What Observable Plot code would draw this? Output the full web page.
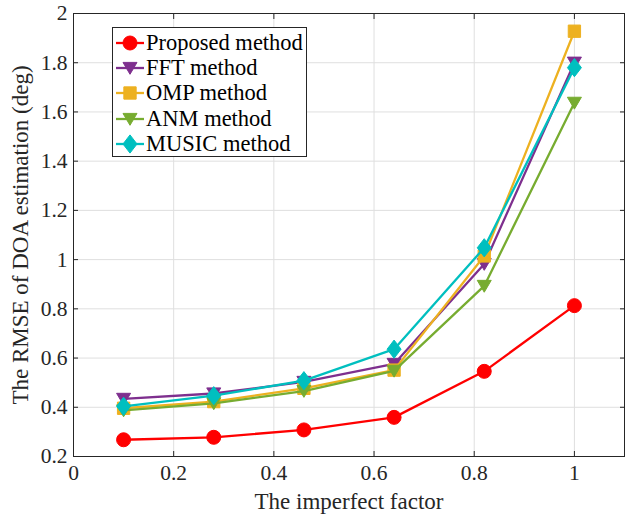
<!DOCTYPE html>
<html><head><meta charset="utf-8">
<script src="https://cdn.jsdelivr.net/npm/d3@7"></script>
<script src="https://cdn.jsdelivr.net/npm/@observablehq/plot@0.6"></script>
<style>
body{margin:0;background:#fff}
#wrap{position:relative;width:629px;height:515px;font-family:"Liberation Serif","Times New Roman",serif}
#legend{position:absolute;left:112px;top:27px;width:195px;height:130px;border:1px solid #262626;background:#fff;box-sizing:border-box;padding-top:2px}
.item{display:flex;align-items:center;height:25.4px;font-size:22.5px;color:#000;white-space:nowrap}
.item svg{margin-left:2px;margin-right:1px;flex:none}
</style>
</head><body><div id="wrap"></div><script>
const xs = [0.1, 0.28, 0.46, 0.64, 0.82, 1.0];
const proposed = [0.268, 0.278, 0.308, 0.359, 0.546, 0.813];
const fft = [0.434, 0.456, 0.503, 0.576, 0.982, 1.800];
const omp = [0.396, 0.423, 0.477, 0.551, 1.015, 1.928];
const anm = [0.387, 0.416, 0.466, 0.548, 0.893, 1.637];
const music = [0.404, 0.447, 0.508, 0.636, 1.048, 1.780];
const names = ["Proposed method", "FFT method", "OMP method", "ANM method", "MUSIC method"];
const colors = ["#ff0000", "#7e2f8e", "#edb120", "#77ac30", "#00bfbf"];
const xTicks = [0, 0.2, 0.4, 0.6, 0.8, 1];
const yTicks = [0.2, 0.4, 0.6, 0.8, 1, 1.2, 1.4, 1.6, 1.8, 2];

const circleSym = {draw(c, s){ const r = Math.sqrt(s/Math.PI); c.moveTo(r,0); c.arc(0,0,r,0,2*Math.PI); }};
const triDown = {draw(c, s){ const r = Math.sqrt(s/Math.PI); c.moveTo(-r,-0.8*r); c.lineTo(r,-0.8*r); c.lineTo(0,0.9*r); c.closePath(); }};
const squareSym = {draw(c, s){ const r = Math.sqrt(s/Math.PI)*0.88; c.rect(-r,-r,2*r,2*r); }};
const diamondSym = {draw(c, s){ const r = Math.sqrt(s/Math.PI); c.moveTo(0,-1.3*r); c.lineTo(r,0); c.lineTo(0,1.3*r); c.lineTo(-r,0); c.closePath(); }};
const symbols = [circleSym, triDown, squareSym, triDown, diamondSym];
const series = [proposed, fft, omp, anm, music];
const fmt = d3.format("~g");

const seriesMarks = series.flatMap((vals, k) => {
  const data = xs.map((x, i) => ({x, y: vals[i]}));
  return [
    Plot.line(data, {x: "x", y: "y", stroke: colors[k], strokeWidth: 2.3}),
    Plot.dot(data, {x: "x", y: "y", fill: colors[k], stroke: colors[k], strokeWidth: 1, symbol: () => symbols[k], r: 7})
  ];
});

const chart = Plot.plot({
  width: 629, height: 515,
  marginLeft: 73, marginRight: 5, marginTop: 13, marginBottom: 59,
  x: {domain: [0, 1.1]},
  y: {domain: [0.2, 2]},
  symbol: {type: "identity"},
  style: {fontFamily: "'Liberation Serif','Times New Roman',serif", fontSize: "21px", color: "#262626", background: "white"},
  marks: [
    Plot.gridX(xTicks, {stroke: "#dfdfdf", strokeOpacity: 1}),
    Plot.gridY(yTicks, {stroke: "#dfdfdf", strokeOpacity: 1}),
    ...seriesMarks,
    Plot.frame({stroke: "#262626"}),
    Plot.axisX(xTicks, {anchor: "bottom", tickSize: -5, tickFormat: () => "", label: null}),
    Plot.axisX(xTicks, {anchor: "top", tickSize: -5, tickFormat: () => "", label: null}),
    Plot.axisY(yTicks, {anchor: "left", tickSize: -5, tickFormat: () => "", label: null}),
    Plot.axisY(yTicks, {anchor: "right", tickSize: -5, tickFormat: () => "", label: null}),
    Plot.axisX(xTicks, {anchor: "bottom", tickSize: 0, tickPadding: 8, fontSize: 21.5, tickFormat: fmt, label: null}),
    Plot.axisY(yTicks, {anchor: "left", tickSize: 0, tickPadding: 6, fontSize: 21.5, tickFormat: fmt, label: null}),
    Plot.axisX(xTicks, {anchor: "bottom", tickSize: 0, tickFormat: () => "", fontSize: 23, label: "The imperfect factor", labelAnchor: "center", labelArrow: "none", labelOffset: 52}),
    Plot.axisY(yTicks, {anchor: "left", tickSize: 0, tickFormat: () => "", fontSize: 23, label: "The RMSE of DOA estimation (deg)", labelAnchor: "center", labelArrow: "none", labelOffset: 62})
  ]
});
const wrap = document.getElementById("wrap");
wrap.appendChild(chart);

const legend = document.createElement("div");
legend.id = "legend";
names.forEach((name, k) => {
  const item = document.createElement("div");
  item.className = "item";
  const svg = d3.create("svg").attr("width", 30).attr("height", 20);
  svg.append("line").attr("x1", 1).attr("x2", 29).attr("y1", 10).attr("y2", 10).attr("stroke", colors[k]).attr("stroke-width", 2.3);
  svg.append("path").attr("transform", "translate(15,10)").attr("d", d3.symbol(symbols[k], Math.PI*49)()).attr("fill", colors[k]).attr("stroke", colors[k]);
  item.appendChild(svg.node());
  const t = document.createElement("span");
  t.textContent = name;
  item.appendChild(t);
  legend.appendChild(item);
});
wrap.appendChild(legend);
</script></body></html>
